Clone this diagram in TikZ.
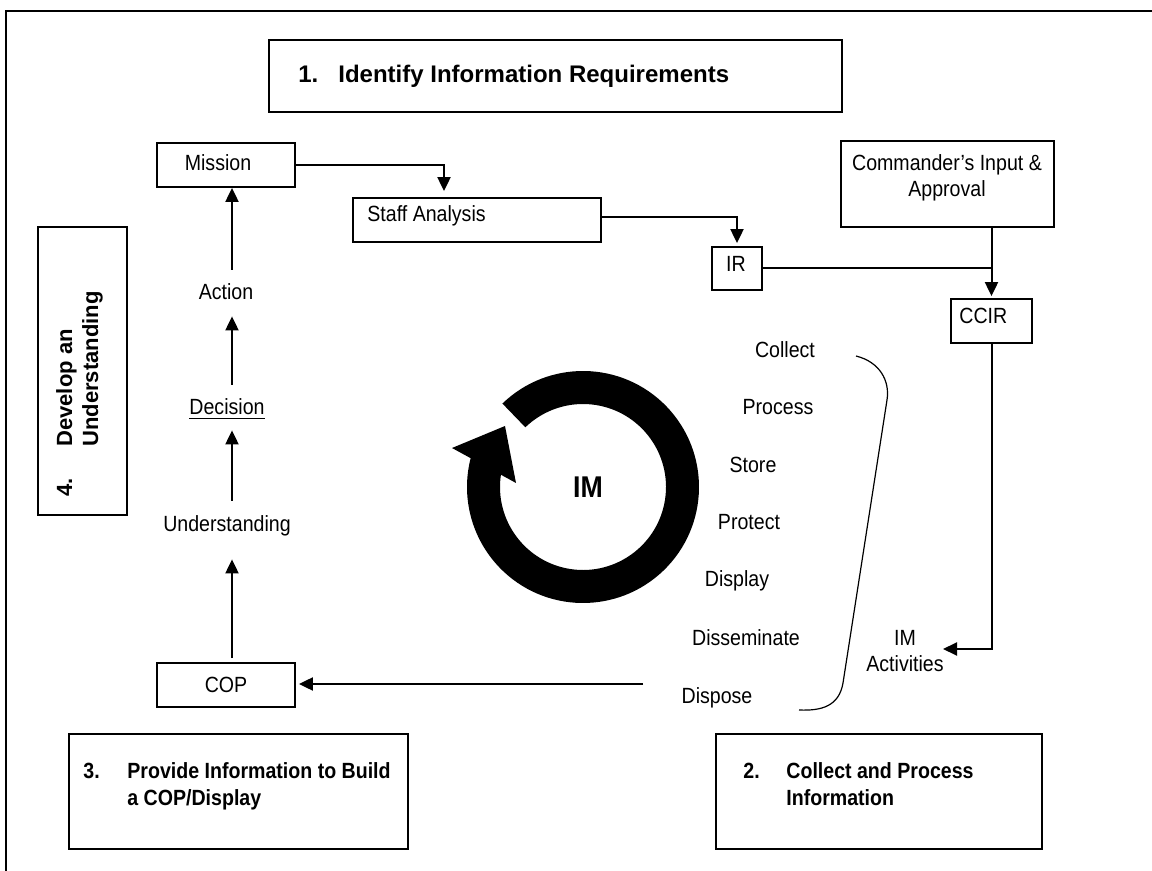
\documentclass[tikz,border=0pt]{standalone}
\usepackage{fontspec}
\setmainfont{Liberation Sans}[FakeStretch=0.89]
\newfontfamily\widefont{Liberation Sans}
\usetikzlibrary{arrows.meta,fit}
\tikzset{
  box/.style={draw, line width=0.9pt, inner sep=0pt},
  lbl/.style={inner sep=0pt, font=\fontsize{11}{13}\selectfont, text height=7.9pt, text depth=2.3pt},
  hd/.style={inner sep=0pt, anchor=base west, font=\fontsize{11}{13}\selectfont\bfseries},
  hdwide/.style={inner sep=0pt, anchor=base west, font=\widefont\fontsize{12}{14}\selectfont\bfseries},
  rot/.style={inner sep=0pt, rotate=90, anchor=base west, font=\widefont\fontsize{11}{13}\selectfont\bfseries},
  arr/.style={line width=1pt, -{Triangle[length=7pt,width=6.5pt]}},
  ln/.style={line width=1pt},
}
\begin{document}
\begin{tikzpicture}[x=0.5pt,y=-0.5pt]
\useasboundingbox (0,0) rectangle (1152,871);
% outer frame
\draw[ln] (6,871) -- (6,11) -- (1152,11);

% boxes
\node[box, fit={(269,40) (842,112)}] (b1) {};
\node[box, fit={(157,143) (295,187)}] (mission) {};
\node[box, fit={(353,198) (601,242)}] (staff) {};
\node[box, fit={(712,247) (762,290)}] (ir) {};
\node[box, fit={(841,141) (1054,227)}] (cmd) {};
\node[box, fit={(951,299) (1032,343)}] (ccir) {};
\node[box, fit={(38,227) (127,515)}] (b4) {};
\node[box, fit={(157,663) (295,707)}] (cop) {};
\node[box, fit={(69,734) (408,849)}] (b3) {};
\node[box, fit={(716,734) (1042,849)}] (b2) {};

% box texts
\node[hdwide] (t1n) at (298,83) {1.};
\node[hdwide] (t1) at (338,83) {Identify Information Requirements};
\node[hd] (t3n) at (83,778) {3.};
\node[hd] (t3a) at (127,778) {Provide Information to Build};
\node[hd] (t3b) at (127,805) {a COP/Display};
\node[hd] (t2n) at (743,778) {2.};
\node[hd] (t2a) at (786,778) {Collect and Process};
\node[hd] (t2b) at (786,805) {Information};
\node[rot] (t4n) at (72,497) {4.};
\node[rot] (t4a) at (72,447) {Develop an};
\node[rot] (t4b) at (98,447) {Understanding};

\node[lbl, anchor=base] (missiont) at (218,171) {Mission};
\node[lbl, anchor=base west] (stafft) at (367,222) {Staff Analysis};
\node[lbl, anchor=base] (irt) at (736,272) {IR};
\node[lbl, anchor=base] (cmdt1) at (947,171) {Commander’s Input \&};
\node[lbl, anchor=base] (cmdt2) at (947,197) {Approval};
\node[lbl, anchor=base west] (ccirt) at (959,324) {CCIR};
\node[lbl, anchor=base] (copt) at (226,692) {COP};

% left column labels
\node[lbl, anchor=base] (act) at (226,300) {Action};
\node[lbl, anchor=base] (dec) at (227,415) {\underline{Decision}};
\node[lbl, anchor=base] (und) at (227,531) {Understanding};

% IM activities
\node[lbl, anchor=base] (collect) at (785,358) {Collect};
\node[lbl, anchor=base] (process) at (778,415) {Process};
\node[lbl, anchor=base] (store) at (753,473) {Store};
\node[lbl, anchor=base] (protect) at (749,530) {Protect};
\node[lbl, anchor=base] (display) at (737,587) {Display};
\node[lbl, anchor=base] (dissem) at (746,646) {Disseminate};
\node[lbl, anchor=base] (dispose) at (717,703) {Dispose};
\node[lbl, anchor=base] (ima) at (905,646) {IM};
\node[lbl, anchor=base] (imb) at (905,671) {Activities};

% bracket
\draw[line width=0.6pt] (856,356) .. controls (880,362) and (890,381) .. (887,400)
  -- (843,683) .. controls (839,706) and (822,711) .. (799,710);

% IM cycle
\begin{scope}[shift={(583,487)}, yscale=-1]
\fill (134:116) arc[start angle=134, end angle=-194.4, radius=116]
  -- (-131,39) -- (-78,61) -- (-67,4) -- (-188.5:83)
  arc[start angle=-188.5, end angle=134, radius=83] -- cycle;
\end{scope}
\node[inner sep=0pt, font=\fontsize{15}{18}\selectfont\bfseries] (im) at (588,487) {IM};

% connectors
\coordinate (c1) at (444,0);
\coordinate (col) at (232,0);
\coordinate (ia) at (943,649);
\coordinate (c5) at (643,684);
\draw[arr, shorten >=3pt] (mission.east) -| (c1 |- staff.north);
\draw[arr, shorten >=1.5pt] ([yshift=1.5pt]staff.east) -| (ir.north);
\draw[ln] (ir.east) -- (ir.east -| ccir.north);
\draw[arr, shorten >=1pt] (cmd.south -| ccir.north) -- (ccir.north);
\draw[arr] (ccir.south) |- (ia);
\draw[arr, shorten >=1.5pt] (c5) -- (c5 -| cop.east);
\draw[arr, shorten <=2pt, shorten >=11.7pt] (cop.north -| col) -- (und.south -| col);
\draw[arr, shorten <=7.1pt, shorten >=5.2pt] (und.north -| col) -- (dec.south -| col);
\draw[arr, shorten <=7.1pt, shorten >=5.7pt] (dec.north -| col) -- (act.south -| col);
\draw[arr, shorten <=7.1pt] (act.north -| col) -- (mission.south -| col);
\end{tikzpicture}
\end{document}
